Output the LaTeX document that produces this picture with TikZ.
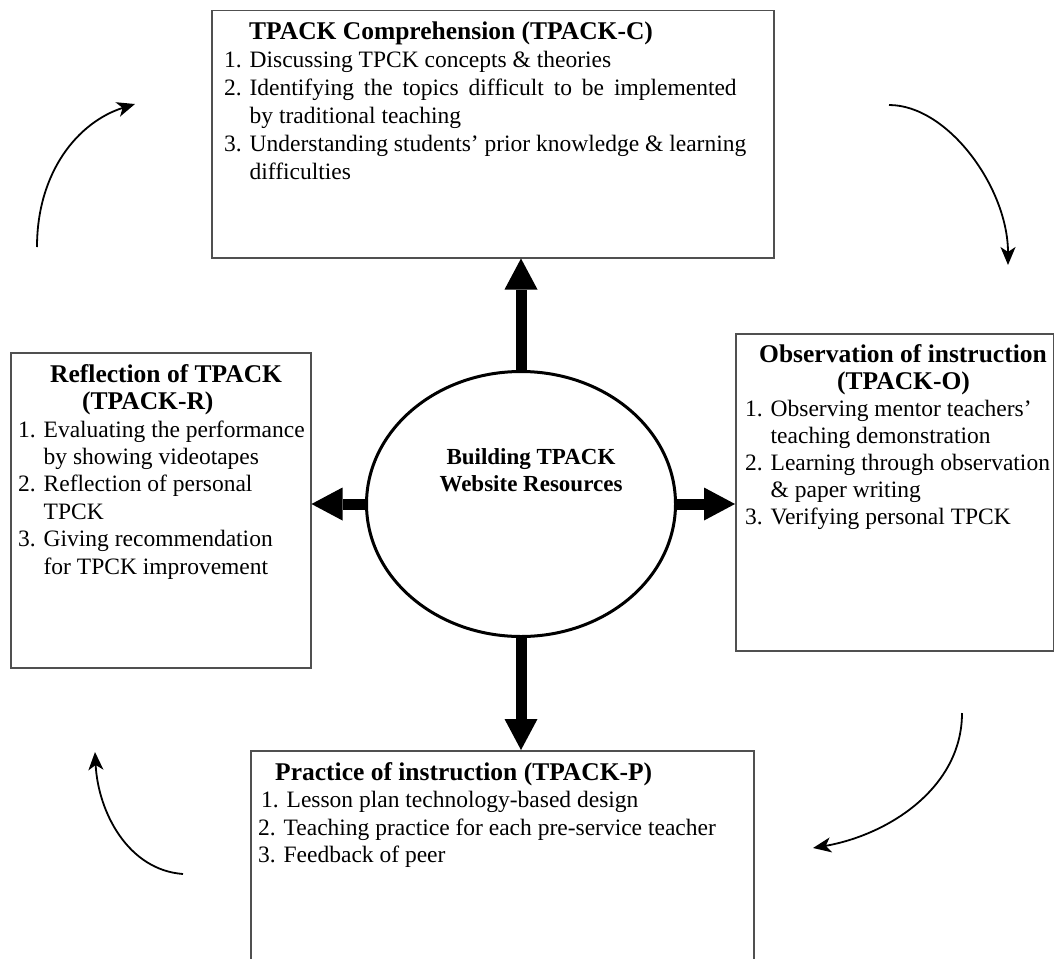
\documentclass[tikz,border=0pt]{standalone}
\usepackage{fontspec}
\setmainfont{Liberation Serif}
\usetikzlibrary{arrows.meta,shapes.geometric}
\definecolor{boxgray}{HTML}{505050}
\begin{document}
\begin{tikzpicture}[x=1pt,y=-1pt,
  box/.style={draw=boxgray, line width=1.5pt, fill=none, inner sep=0pt, anchor=north west},
  txt/.style={anchor=north west, inner sep=0pt, align=left},
  itemfont/.style={font=\fontsize{23.5}{#1}\selectfont},
  bigarrow/.style={line width=11pt, -{Triangle[length=31pt,width=33pt,line width=0pt]}},
  cyclearrow/.style={line width=1.8pt, -{Stealth[length=18pt,width=15pt,inset=5pt]}}
]
\useasboundingbox (0,0) rectangle (1054,958);
\clip (0,0) rectangle (1054,958);

% boxes
\node[box, minimum width=562pt, minimum height=247pt] (tc) at (211,10) {};
\node[box, minimum width=318pt, minimum height=317pt] (oc) at (735,333) {};
\node[box, minimum width=300pt, minimum height=315pt] (rc) at (10,352) {};
\node[box, minimum width=503pt, minimum height=240pt] (pc) at (250,750) {};

% hub
\node[ellipse, draw, line width=3pt, minimum width=309pt, minimum height=265pt, inner sep=0pt] (hub) at (521,504) {};
\node[anchor=north, inner sep=0pt, align=center, font=\bfseries\fontsize{23}{27}\selectfont] (hubtext) at (531,446)
  {\rule{0pt}{18pt}Building TPACK\\Website Resources};

% texts
\node[txt, itemfont=28] (tctext) at (224,20) {%
\hspace*{25pt}{\bfseries\fontsize{25.5}{28}\selectfont\rule{0pt}{19pt}TPACK Comprehension (TPACK-C)}\\
1. Discussing TPCK concepts \& theories\\
2. \makebox[487pt][s]{Identifying the topics difficult to be implemented}\\
\phantom{2. }by traditional teaching\\
3. Understanding students’ prior knowledge \& learning\\
\phantom{3. }difficulties};

\node[txt, itemfont=27] (octext) at (745,343) {%
\hspace*{14pt}{\bfseries\fontsize{25.5}{27}\selectfont\rule{0pt}{19pt}Observation of instruction}\\
\hspace*{92pt}{\bfseries\fontsize{25.5}{27}\selectfont (TPACK-O)}\\
1. Observing mentor teachers’\\
\phantom{1. }teaching demonstration\\
2. Learning through observation\\
\phantom{2. }\& paper writing\\
3. Verifying personal TPCK};

\node[txt, itemfont=27.4] (rctext) at (18,363) {%
\hspace*{32pt}{\bfseries\fontsize{25.5}{27.4}\selectfont\rule{0pt}{19pt}Reflection of TPACK}\\
\hspace*{64pt}{\bfseries\fontsize{25.5}{27.4}\selectfont (TPACK-R)}\\
1. Evaluating the performance\\
\phantom{1. }by showing videotapes\\
2. Reflection of personal\\
\phantom{2. }TPCK\\
3. Giving recommendation\\
\phantom{3. }for TPCK improvement};

\node[txt, itemfont=27.5] (pctext) at (258,761) {%
\hspace*{17pt}{\bfseries\fontsize{25.5}{27.5}\selectfont\rule{0pt}{19pt}Practice of instruction (TPACK-P)}\\
\hspace*{3pt}1. Lesson plan technology-based design\\
2. Teaching practice for each pre-service teacher\\
3. Feedback of peer};

% thick arrows from hub
\draw[bigarrow] (hub.north) -- (hub.north |- tc.south);
\draw[bigarrow] (hub.south) -- (hub.south |- pc.north);
\draw[bigarrow] (hub.west) -- (hub.west -| rc.east);
\draw[bigarrow] (hub.east) -- (hub.east -| oc.west);

% cycle arrows
\coordinate (a1s) at (37,247);  \coordinate (a1e) at (135,104);
\coordinate (a2s) at (889,105); \coordinate (a2e) at (1008,265);
\coordinate (a3s) at (962,713); \coordinate (a3e) at (813,848);
\coordinate (a4s) at (183,874); \coordinate (a4e) at (95,752);
\draw[cyclearrow] (a1s) .. controls (37,172) and (78,122) .. (a1e);
\draw[cyclearrow] (a2s) .. controls (948,105) and (1008,188) .. (a2e);
\draw[cyclearrow] (a3s) .. controls (962,788) and (888,835) .. (a3e);
\draw[cyclearrow] (a4s) .. controls (128,870) and (98,812) .. (a4e);
\end{tikzpicture}
\end{document}
